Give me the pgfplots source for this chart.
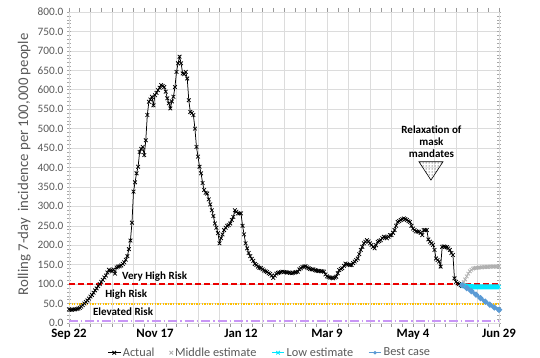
\documentclass[border=0pt]{standalone}
\usepackage{fontspec}
\setmainfont{Carlito}
\usepackage{pgfplots}
\pgfplotsset{compat=1.18}
\usepackage{pgfplotstable}
\usetikzlibrary{patterns}
\definecolor{tickgray}{RGB}{89,89,89}
\definecolor{gridgray}{RGB}{220,220,220}
\definecolor{riskred}{RGB}{235,0,0}
\definecolor{riskorange}{RGB}{255,192,0}
\definecolor{riskpurple}{RGB}{200,150,245}
\definecolor{midgray}{RGB}{175,175,175}
\definecolor{lowcyan}{RGB}{0,230,255}
\definecolor{bestblue}{RGB}{91,155,213}

\pgfplotstableread{
d v
0 35
1 34
2 34
3 35
4 35
5 36
6 37
7 39
8 42
9 46
10 50
11 54
12 58
13 63
14 68
15 72
16 78
17 84
18 89
19 95
20 100
21 106
22 111
23 117
24 122
25 130
26 137
27 135
28 133
29 138
30 127
31 143
32 145
33 146
34 148
35 152
36 156
37 163
38 172
39 190
40 212
41 258
42 338
43 362
44 385
45 402
46 440
47 448
48 453
49 432
50 470
51 535
52 569
53 575
54 582
55 560
56 586
57 592
58 599
59 605
60 612
61 610
62 607
63 595
64 578
65 565
66 552
67 570
68 582
69 607
70 646
71 668
72 685
73 668
74 642
75 640
76 646
77 629
78 573
79 543
80 540
81 535
82 500
83 453
84 428
85 402
86 385
87 360
88 342
89 335
90 333
91 318
92 305
93 290
94 275
95 256
96 245
97 231
98 205
99 218
100 228
101 239
102 245
103 250
104 252
105 256
106 265
107 273
108 290
109 286
110 282
111 282
112 282
113 250
114 228
115 205
116 192
117 180
118 172
119 165
120 160
121 152
122 149
123 145
124 142
125 141
126 138
127 135
128 133
129 131
130 128
131 126
132 122
133 116
134 122
135 127
136 129
137 130
138 131
139 132
140 131
141 131
142 130
143 130
144 129
145 128
146 129
147 130
148 131
149 132
150 138
151 141
152 144
153 145
154 146
155 143
156 141
157 139
158 138
159 138
160 136
161 135
162 134
163 134
164 133
165 133
166 132
167 125
168 120
169 118
170 117
171 116
172 115
173 117
174 119
175 128
176 136
177 139
178 141
179 147
180 153
181 151
182 150
183 149
184 149
185 154
186 158
187 162
188 166
189 177
190 188
191 196
192 205
193 209
194 213
195 210
196 205
197 201
198 196
199 192
200 200
201 209
202 211
203 213
204 218
205 222
206 220
207 218
208 222
209 226
210 226
211 232
212 239
213 250
214 260
215 262
216 265
217 267
218 269
219 267
220 265
221 262
222 260
223 250
224 243
225 239
226 236
227 235
228 235
229 232
230 226
231 239
232 239
233 239
234 215
235 209
236 205
237 201
238 188
239 166
240 162
241 158
242 145
243 196
244 197
245 196
246 195
247 192
248 188
249 180
250 175
251 115
252 106
253 102
254 100
255 97
256 95
}\actual

\pgfplotstableread{
d v
256 98
257 105
258 112
259 120
260 127
261 133
262 137
263 140
264 141
265 142
266 142
267 143
268 143
269 143
270 144
271 144
272 144
273 144
274 145
275 145
276 145
277 145
278 145
279 145
280 146
}\middle

\pgfplotstableread{
d v
256 97
257 96
258 95
259 95
260 94
261 94
262 94
263 93
264 93
265 93
266 93
267 93
268 93
269 93
270 93
271 93
272 93
273 93
274 93
275 93
276 93
277 93
278 93
279 93
280 93
}\low

\pgfplotstableread{
d v
256 97
259 90
262 82
265 73
268 64
271 55
274 47
277 40
280 34
}\best

\begin{document}
\begin{tikzpicture}
\begin{axis}[
  scale only axis,
  width=430pt, height=311pt,
  at={(0,0)}, anchor=south west,
  xmin=0, xmax=280, ymin=0, ymax=800,
  xtick={0,14,...,280},
  xticklabels={Sep 22,,,,Nov 17,,,,Jan 12,,,,Mar 9,,,,May 4,,,,Jun 29},
  minor x tick num=1,
  ytick={0,50,...,800},
  minor y tick num=4,
  grid=major,
  major grid style={draw=gridgray, line width=0.5pt},
  axis line style={draw=gridgray},
  tick style={draw=gray!70, line width=0.5pt},
  x tick style={draw=gray!80},
  major tick length=4pt, minor tick length=4pt,
  xtick align=outside,
  ytick align=center,
  x tick label style={font=\fontsize{12.8}{14}\selectfont\bfseries, text=black, yshift=1pt},
  y tick label style={font=\fontsize{11.3}{12}\selectfont, text=tickgray},
  yticklabel style={/pgf/number format/.cd, fixed, fixed zerofill, precision=1, assume math mode=true},
  every axis y label/.style={at={(axis description cs:-0.104,0.51)}, rotate=90, anchor=center},
  ylabel={Rolling 7-day\ \ incidence per 100,000 people},
  ylabel style={font=\fontsize{14.8}{16}\selectfont, text=tickgray},
  legend columns=4,
  legend style={at={(0.467,-0.066)}, anchor=north, draw=none, fill=none,
    font=\fontsize{12.3}{14}\selectfont, text=tickgray,
    /tikz/every even column/.append style={column sep=13pt}},
  legend image code/.code={\draw[mark repeat=2,mark phase=2,#1] plot coordinates {(0cm,0cm) (0.22cm,0cm) (0.44cm,0cm)};},
  clip=false,
]
% risk thresholds
\addplot[riskpurple, line width=2.2pt, dash pattern=on 9pt off 3pt on 1.5pt off 3pt, forget plot] coordinates {(0,6) (280,6)};
\addplot[riskorange, line width=1.9pt, dash pattern=on 1.3pt off 1.3pt, forget plot] coordinates {(0,50) (280,50)};
\addplot[riskred, line width=1.8pt, dash pattern=on 6pt off 3pt, forget plot] coordinates {(0,100) (280,100)};
% series
\addplot[black, line width=0.75pt, mark=x, mark size=2.6pt, mark options={line width=0.75pt}] table[x=d,y=v] {\actual};
\addlegendentry{Actual}
\addplot[midgray, only marks, mark=x, mark size=2.5pt, mark options={line width=0.8pt}] table[x=d,y=v] {\middle};
\addlegendentry{Middle estimate}
\addplot[lowcyan, line width=5pt, mark=x, mark size=2.5pt, mark options={line width=0.8pt},
  legend image post style={line width=0.8pt}] table[x=d,y=v] {\low};
\addlegendentry{Low estimate}
\addplot[bestblue, line width=2.8pt, mark=*, mark size=1.3pt,
  legend image post style={line width=0.9pt}] table[x=d,y=v] {\best};
\addlegendentry{Best case}
% risk labels
\node[anchor=west, font=\fontsize{11}{12}\selectfont\bfseries, inner sep=0pt] at (axis cs:34.5,119) {Very High Risk};
\node[anchor=west, font=\fontsize{11}{12}\selectfont\bfseries, inner sep=0pt] at (axis cs:23.5,72) {High Risk};
\node[anchor=west, font=\fontsize{11}{12}\selectfont\bfseries, inner sep=0pt] at (axis cs:15.5,28) {Elevated Risk};
% annotation
\node[align=center, font=\fontsize{11}{12.2}\selectfont\bfseries, inner sep=0pt] at (axis cs:236,466) {Relaxation of\\mask\\mandates};
\draw[black, line width=0.6pt, pattern=dots] (axis cs:227.9,414.7) -- (axis cs:243.5,414.7) -- (axis cs:235.7,367.6) -- cycle;
\end{axis}
\pgfresetboundingbox
\path (-69pt,-35pt) rectangle (471pt,323pt);
\end{tikzpicture}
\end{document}
